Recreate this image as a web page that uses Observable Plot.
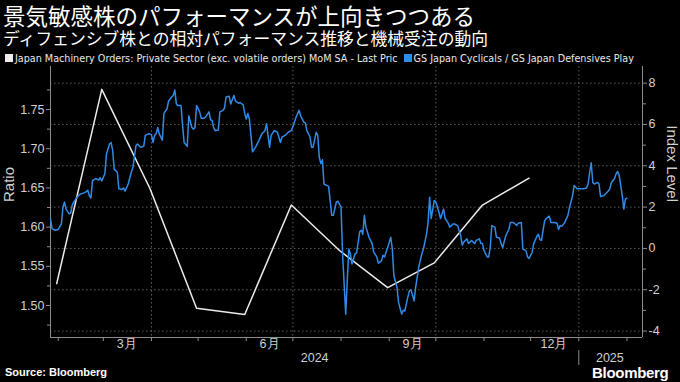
<!DOCTYPE html>
<html><head><meta charset="utf-8">
<script src="https://cdn.jsdelivr.net/npm/d3@7"></script>
<script src="https://cdn.jsdelivr.net/npm/@observablehq/plot@0.6"></script>
<style>
html,body{margin:0;padding:0;background:#000;}
body{width:680px;height:382px;overflow:hidden;position:relative;color:#fff;font-family:"Liberation Sans",Arial,sans-serif;}
#title{position:absolute;left:3px;top:3px;height:24px;font-size:22.5px;line-height:24px;white-space:nowrap;font-family:"Noto Sans CJK JP",sans-serif;font-weight:400;}
#subtitle{position:absolute;left:3px;top:29px;height:18px;font-size:16.8px;line-height:18px;white-space:nowrap;font-family:"Noto Sans CJK JP",sans-serif;}
#legend{position:absolute;left:5px;top:52px;font-size:10.7px;line-height:13px;white-space:nowrap;font-family:"Liberation Sans Narrow","DejaVu Sans Condensed","Liberation Sans",sans-serif;color:#e8e8e8;}
#legend .sw{display:inline-block;width:8px;height:8px;margin-right:2px;vertical-align:0px;}
#legend .item{margin-right:6px;}
#chart{position:absolute;left:0;top:60px;}
#source{position:absolute;left:5px;top:366px;font-size:11px;font-weight:bold;color:#fff;font-family:"Liberation Sans",Arial,sans-serif;}
#logo{position:absolute;left:592px;top:364px;font-size:15px;font-weight:bold;color:#fff;letter-spacing:-0.3px;font-family:"Liberation Sans",Arial,sans-serif;}
#logo .ic{display:inline-block;width:10px;height:11px;background:#ddd;border-radius:2px;margin-left:4px;vertical-align:-1px;}
</style></head>
<body>
<div id="title"></div>
<div id="subtitle"></div>
<div id="legend"></div>
<div id="chart"></div>
<div id="source"></div>
<div id="logo">Bloomberg<span class="ic"></span></div>
<script>
const titleText = "景気敏感株のパフォーマンスが上向きつつある";
const subtitleText = "ディフェンシブ株との相対パフォーマンス推移と機械受注の動向";
const seriesNames = ["Japan Machinery Orders: Private Sector (exc. volatile orders) MoM SA - Last Pric", "GS Japan Cyclicals / GS Japan Defensives Play"];
const seriesColors = ["#ececec", "#2f8be6"];
const sourceText = "Source: Bloomberg";

// Machinery orders MoM (%), right axis
const machineryDates = ["2024-01-31","2024-02-29","2024-03-31","2024-04-30","2024-05-31","2024-06-30","2024-07-31","2024-08-31","2024-09-30","2024-10-31","2024-11-30"];
const machineryValues = [-1.7, 7.7, 2.9, -2.9, -3.2, 2.1, -0.1, -1.9, -0.7, 2.1, 3.4];

// Cyclicals / Defensives ratio, left axis
const ratioDates = ["2024-01-27","2024-01-28","2024-01-30","2024-02-01","2024-02-03","2024-02-04","2024-02-05","2024-02-06","2024-02-08","2024-02-09","2024-02-10","2024-02-11","2024-02-13","2024-02-15","2024-02-18","2024-02-20","2024-02-21","2024-02-22","2024-02-23","2024-02-25","2024-02-27","2024-02-28","2024-02-29",
"2024-03-02","2024-03-03","2024-03-05","2024-03-06","2024-03-07","2024-03-08","2024-03-10","2024-03-11","2024-03-13","2024-03-14","2024-03-15","2024-03-17","2024-03-19","2024-03-20","2024-03-22","2024-03-23","2024-03-25","2024-03-27","2024-03-28","2024-03-30",
"2024-04-01","2024-04-02","2024-04-03","2024-04-04","2024-04-05","2024-04-06","2024-04-08","2024-04-09","2024-04-11","2024-04-12","2024-04-14","2024-04-15","2024-04-16","2024-04-17","2024-04-18","2024-04-20","2024-04-21","2024-04-22","2024-04-24","2024-04-25","2024-04-27","2024-04-28","2024-04-29","2024-04-30",
"2024-05-02","2024-05-03","2024-05-05","2024-05-06","2024-05-08","2024-05-09","2024-05-10","2024-05-11","2024-05-12","2024-05-14","2024-05-15","2024-05-17","2024-05-18","2024-05-19","2024-05-21","2024-05-22","2024-05-24","2024-05-25","2024-05-27","2024-05-28","2024-05-30","2024-05-31",
"2024-06-01","2024-06-02","2024-06-03","2024-06-05","2024-06-07","2024-06-09","2024-06-11","2024-06-13","2024-06-14","2024-06-16","2024-06-17","2024-06-19","2024-06-21","2024-06-23","2024-06-24","2024-06-26","2024-06-28","2024-06-30",
"2024-07-02","2024-07-03","2024-07-05","2024-07-06","2024-07-08","2024-07-09","2024-07-10","2024-07-12","2024-07-13","2024-07-14","2024-07-16","2024-07-17","2024-07-18","2024-07-19","2024-07-20","2024-07-21","2024-07-23","2024-07-24","2024-07-26","2024-07-27","2024-07-29","2024-07-30","2024-07-31",
"2024-08-01","2024-08-02","2024-08-04","2024-08-05","2024-08-06","2024-08-07","2024-08-08","2024-08-10","2024-08-11","2024-08-13","2024-08-14","2024-08-15","2024-08-16","2024-08-17","2024-08-19","2024-08-21","2024-08-22","2024-08-24","2024-08-25","2024-08-27","2024-08-28","2024-08-29","2024-08-31",
"2024-09-02","2024-09-03","2024-09-04","2024-09-06","2024-09-07","2024-09-09","2024-09-10","2024-09-11","2024-09-13","2024-09-14","2024-09-15","2024-09-17","2024-09-18","2024-09-20","2024-09-22","2024-09-23","2024-09-25","2024-09-26","2024-09-27","2024-09-28","2024-09-30",
"2024-10-01","2024-10-03","2024-10-04","2024-10-06","2024-10-07","2024-10-09","2024-10-10","2024-10-12","2024-10-13","2024-10-15","2024-10-17","2024-10-18","2024-10-19","2024-10-21","2024-10-22","2024-10-24","2024-10-26","2024-10-27","2024-10-29","2024-10-30","2024-10-31",
"2024-11-01","2024-11-03","2024-11-04","2024-11-05","2024-11-06","2024-11-08","2024-11-09","2024-11-11","2024-11-12","2024-11-13","2024-11-15","2024-11-17","2024-11-18","2024-11-20","2024-11-21","2024-11-22","2024-11-23","2024-11-25","2024-11-26","2024-11-28","2024-11-29","2024-11-30",
"2024-12-02","2024-12-03","2024-12-05","2024-12-06","2024-12-07","2024-12-08","2024-12-10","2024-12-11","2024-12-13","2024-12-14","2024-12-16","2024-12-18","2024-12-19","2024-12-20","2024-12-21","2024-12-23","2024-12-25","2024-12-26","2024-12-28","2024-12-29","2024-12-31",
"2025-01-02","2025-01-04","2025-01-06","2025-01-07","2025-01-08","2025-01-09","2025-01-10","2025-01-11","2025-01-13","2025-01-14","2025-01-15","2025-01-17","2025-01-18","2025-01-20","2025-01-21","2025-01-22","2025-01-24","2025-01-25","2025-01-26","2025-01-27","2025-01-28","2025-01-29","2025-01-30","2025-01-31","2025-02-01"];
const ratioValues = [1.611,1.598,1.596,1.597,1.604,1.625,1.632,1.623,1.617,1.618,1.628,1.632,1.638,1.642,1.644,1.647,1.640,1.637,1.659,1.662,1.660,1.663,1.659,
1.668,1.693,1.706,1.708,1.698,1.674,1.670,1.649,1.648,1.650,1.646,1.655,1.670,1.676,1.704,1.706,1.702,1.703,1.717,1.719,
1.718,1.708,1.717,1.719,1.727,1.719,1.711,1.745,1.751,1.761,1.766,1.768,1.775,1.757,1.755,1.755,1.730,1.708,1.703,1.742,1.727,1.725,1.727,1.755,
1.747,1.739,1.739,1.741,1.747,1.737,1.736,1.727,1.723,1.724,1.747,1.749,1.752,1.766,1.767,1.757,1.768,1.761,1.758,1.759,1.756,1.745,
1.738,1.745,1.738,1.696,1.702,1.710,1.719,1.723,1.732,1.702,1.717,1.723,1.721,1.708,1.715,1.717,1.721,1.723,
1.734,1.740,1.749,1.742,1.734,1.733,1.723,1.715,1.702,1.702,1.721,1.717,1.689,1.681,1.686,1.655,1.653,1.652,1.615,1.615,1.632,1.633,1.629,
1.626,1.564,1.489,1.532,1.572,1.566,1.553,1.566,1.567,1.594,1.596,1.591,1.615,1.600,1.587,1.579,1.568,1.562,1.554,1.557,1.564,1.562,1.574,
1.587,1.572,1.538,1.523,1.504,1.489,1.494,1.493,1.511,1.519,1.520,1.506,1.523,1.549,1.566,1.572,1.591,1.606,1.638,1.611,1.634,
1.632,1.619,1.611,1.623,1.611,1.605,1.600,1.604,1.604,1.602,1.589,1.577,1.581,1.585,1.579,1.583,1.579,1.583,1.585,1.579,1.579,
1.570,1.562,1.562,1.574,1.602,1.600,1.587,1.586,1.579,1.574,1.589,1.597,1.606,1.606,1.604,1.602,1.605,1.606,1.572,1.570,1.562,1.560,
1.568,1.579,1.588,1.591,1.584,1.583,1.608,1.611,1.614,1.606,1.606,1.605,1.597,1.602,1.601,1.606,1.615,1.625,1.640,1.653,1.649,
1.649,1.649,1.650,1.655,1.670,1.682,1.657,1.655,1.657,1.655,1.639,1.640,1.642,1.646,1.649,1.657,1.662,1.668,1.671,1.666,1.653,1.640,1.623,1.636,1.637];

// Axes
const leftTicks = [1.50, 1.55, 1.60, 1.65, 1.70, 1.75];
const leftMinorTicks = [1.475, 1.525, 1.575, 1.625, 1.675, 1.725, 1.775];
const rightTicks = [-4, -2, 0, 2, 4, 6, 8];
const rightMinorTicks = [-3, -1, 1, 3, 5, 7];
const monthLabelDates = ["2024-03-16", "2024-06-16", "2024-09-16", "2024-12-16"];
const yearLabelDates = ["2024-07-15", "2025-01-21"];
const quarterDates = ["2024-04-01", "2024-07-01", "2024-10-01", "2025-01-01"];
const xDomain = ["2024-01-27", "2025-02-11"];
const leftDomain = [1.4592, 1.8049];
// right axis (Index Level) expressed on the Ratio scale: ratio = R0 + RS * index
const R0 = 1.57283, RS = 0.026352;
const toR = v => R0 + RS * v;

document.getElementById("title").textContent = titleText;
document.getElementById("subtitle").textContent = subtitleText;
document.getElementById("source").textContent = sourceText;
const leg = document.getElementById("legend");
seriesNames.forEach((n, i) => {
  const s = document.createElement("span"); s.className = "item";
  s.innerHTML = `<span class="sw" style="background:${seriesColors[i]}"></span>${n}`;
  leg.appendChild(s);
});

const D = s => new Date(s);
const machinery = machineryDates.map((d, i) => ({date: D(d), value: machineryValues[i]}));
const ratio = ratioDates.map((d, i) => ({date: D(d), value: ratioValues[i]}));
const xd = xDomain.map(D);
const monthStarts = d3.utcMonth.range(D("2024-02-01"), D("2025-02-02"));

const gridStyle = {stroke: "#5c5c5c", strokeOpacity: 1, strokeDasharray: "1.5,2.5", strokeWidth: 1};
const axisColor = "#8c8c8c";

const chart = Plot.plot({
  width: 680, height: 308,
  marginTop: 6, marginBottom: 31, marginLeft: 50, marginRight: 38,
  style: {background: "transparent", color: "#cfcfcf", fontFamily: '"Liberation Sans", Arial, sans-serif', fontSize: "12.5px"},
  x: {type: "utc", domain: xd, axis: null},
  y: {domain: leftDomain, axis: null},
  marks: [
    Plot.gridY(rightTicks.map(toR), gridStyle),
    Plot.gridX(quarterDates.map(D), gridStyle),
    Plot.ruleX([xd[0]], {stroke: axisColor}),
    Plot.ruleX([xd[1]], {stroke: axisColor}),
    Plot.ruleY([leftDomain[0]], {stroke: axisColor}),
    Plot.lineY(machinery, {x: "date", y: d => toR(d.value), stroke: seriesColors[0], strokeWidth: 1.5}),
    Plot.lineY(ratio, {x: "date", y: "value", stroke: seriesColors[1], strokeWidth: 1.5}),
    Plot.axisY(leftTicks, {anchor: "left", tickSize: 4, tickPadding: 2, stroke: axisColor, tickFormat: d3.format(".2f"), label: null}),
    Plot.axisY(leftMinorTicks, {anchor: "left", tickSize: 3, stroke: axisColor, tickFormat: () => "", label: null}),
    Plot.axisY(rightTicks.map(toR), {anchor: "right", tickSize: 4, tickPadding: 2, stroke: axisColor, tickFormat: r => String(Math.round((r - R0) / RS)), label: null}),
    Plot.axisY(rightMinorTicks.map(toR), {anchor: "right", tickSize: 3, stroke: axisColor, tickFormat: () => "", label: null}),
    Plot.axisX(monthStarts, {tickSize: 4, stroke: axisColor, tickFormat: () => "", label: null}),
    Plot.axisX(monthLabelDates.map(D), {tickSize: 0, tickPadding: 2, tickFormat: d => `${d.getUTCMonth() + 1}月`, label: null}),
    Plot.axisX(yearLabelDates.map(D), {tickSize: 0, tickPadding: 16, tickFormat: d => `${d.getUTCFullYear()}`, label: null}),
    Plot.axisX([D("2025-01-01")], {tickSize: 15, dy: 13, stroke: axisColor, tickFormat: () => "", label: null}),
    Plot.text(["Ratio"], {frameAnchor: "left", rotate: -90, dx: -41, fontSize: 15, fill: "#cfcfcf"}),
    Plot.text(["Index Level"], {frameAnchor: "right", rotate: 90, dx: 29, fontSize: 15, fill: "#cfcfcf"})
  ]
});
document.getElementById("chart").appendChild(chart);
</script>
</body></html>
